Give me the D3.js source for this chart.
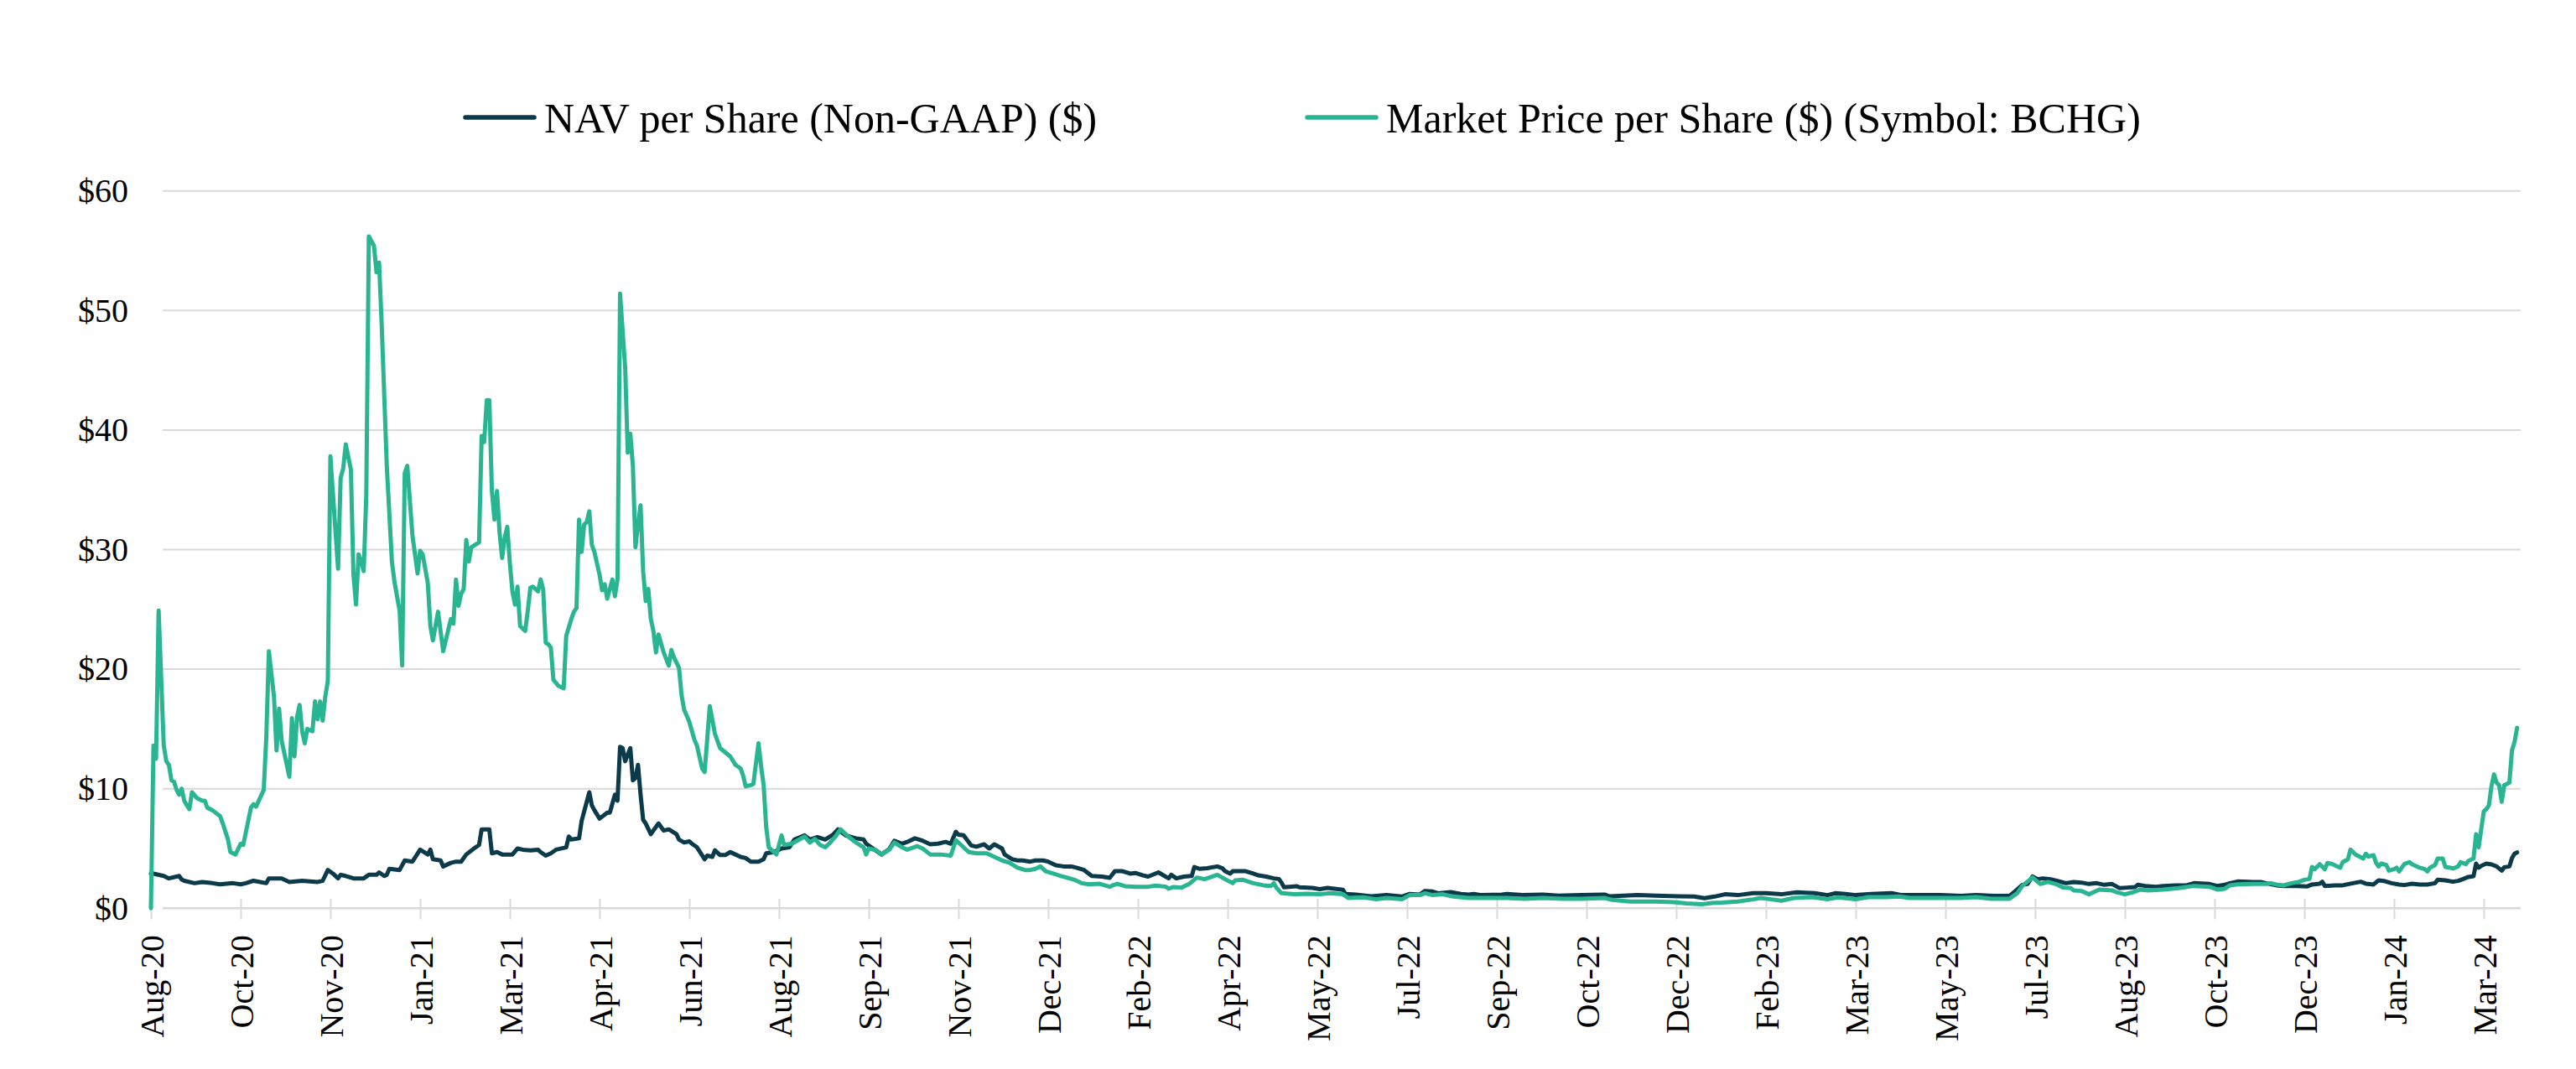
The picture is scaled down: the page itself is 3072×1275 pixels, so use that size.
<!DOCTYPE html>
<html>
<head>
<meta charset="utf-8">
<script src="https://cdn.jsdelivr.net/npm/d3@7"></script>
<style>
  html, body { margin: 0; padding: 0; background: #ffffff; }
  svg { display: block; }
  text { font-family: "Liberation Serif", "Times New Roman", Times, serif; fill: #000; }
</style>
</head>
<body>
<svg id="chart" width="3072" height="1275"></svg>
<script>
// ---------------- DATA ----------------
const seriesNames = ["NAV per Share (Non-GAAP) ($)", "Market Price per Share ($) (Symbol: BCHG)"];
const tickLabels = ["Aug-20","Oct-20","Nov-20","Jan-21","Mar-21","Apr-21","Jun-21","Aug-21","Sep-21","Nov-21","Dec-21","Feb-22","Apr-22","May-22","Jul-22","Sep-22","Oct-22","Dec-22","Feb-23","Mar-23","May-23","Jul-23","Aug-23","Oct-23","Dec-23","Jan-24","Mar-24"];
const daysPerLabel = 35; // trading days between category labels
const yTickValues = [0, 10, 20, 30, 40, 50, 60];

// [trading-day index, NAV per share $]
const navData = [
[0,2.9],[1,2.9],[5,2.7],[7,2.5],[11,2.7],[12,2.4],[13,2.3],[17,2.1],[20,2.2],[24,2.1],[27,2.0],[32,2.1],[35,2.0],[37,2.1],[40,2.3],[45,2.1],[46,2.5],[51,2.5],[54,2.2],[59,2.3],[65,2.2],[67,2.3],[69,3.2],[71,2.9],[73,2.5],[74,2.8],[76,2.7],[79,2.5],[83,2.5],[85,2.8],[88,2.8],[89,3.0],[91,2.7],[92,2.8],[93,3.3],[97,3.2],[99,4.0],[102,3.9],[105,4.9],[108,4.5],[109,4.9],[110,4.1],[113,4.0],[114,3.5],[117,3.8],[119,3.9],[121,3.9],[123,4.5],[126,5.0],[128,5.3],[129,6.6],[132,6.6],[133,4.6],[135,4.7],[137,4.5],[141,4.5],[143,5.0],[145,4.9],[148,4.85],[151,4.9],[152,4.7],[154,4.4],[156,4.6],[158,4.9],[162,5.1],[163,6.0],[164,5.75],[167,5.85],[168,7.3],[171,9.7],[172,8.6],[173,8.2],[175,7.5],[178,8.0],[179,8.0],[181,9.5],[182,9.0],[183,13.5],[184,13.4],[185,12.3],[187,13.4],[188,10.7],[189,10.9],[190,12.0],[191,9.5],[192,7.4],[193,7.1],[195,6.2],[198,7.1],[200,6.5],[202,6.6],[205,6.2],[206,5.75],[208,5.5],[210,5.6],[211,5.4],[213,5.1],[216,4.1],[217,4.4],
[219,4.3],[220,4.85],[222,4.45],[224,4.45],[226,4.7],[228,4.5],[230,4.3],[232,4.2],[234,3.9],[237,3.9],[239,4.1],[240,4.6],[243,4.7],[246,5.0],[249,5.1],[251,5.75],[255,6.1],[257,5.75],[260,5.95],[263,5.75],[266,6.15],[268,6.6],[271,6.1],[275,5.85],[278,5.75],[279,5.4],[282,4.95],[285,4.5],[288,4.95],[290,5.65],[293,5.4],[295,5.55],[298,5.85],[301,5.65],[304,5.35],[307,5.4],[310,5.55],[312,5.4],[314,6.4],[315,6.15],[317,6.1],[320,5.25],[322,5.15],[325,5.35],[327,5.0],[329,5.35],[332,5.0],[333,4.5],[336,4.1],[338,4.0],[340,4.0],[343,3.9],[345,4.0],[348,4.0],[350,3.9],[353,3.6],[356,3.5],[359,3.5],[361,3.4],[364,3.2],[367,2.7],[371,2.65],[374,2.55],[376,3.1],[379,3.1],[382,2.9],[384,2.95],[387,2.75],[389,2.65],[393,3.0],[397,2.5],[398,2.8],[400,2.5],[403,2.65],[406,2.7],[407,3.45],[409,3.3],[412,3.35],[416,3.5],[418,3.35],[419,3.1],[421,2.9],[422,3.1],[427,3.1],[430,2.9],[432,2.75],[435,2.65],[438,2.5],[440,2.45],[441,2.15],[442,1.75],[447,1.85],[448,1.75],[453,1.7],[456,1.6],[459,1.7],[465,1.55],[466,1.2],[470,1.15],[476,1.0],[482,1.1],[488,0.98],[491,1.2],[495,1.15],[497,1.45],[500,1.4],[502,1.25],[507,1.35],[511,1.2],[514,1.15],[516,1.2],[519,1.1],[527,1.15],[529,1.2],[535,1.1],[543,1.15],[549,1.05],[558,1.1],[567,1.15],[569,1.0],[580,1.1],[587,1.05],[596,1.0],[602,0.98],[606,0.84],[610,0.98],
[614,1.17],[619,1.1],[625,1.26],[630,1.26],[636,1.17],[642,1.33],[649,1.26],[654,1.1],[657,1.26],[661,1.2],[665,1.1],[671,1.2],[679,1.26],[683,1.1],[698,1.1],[706,1.03],[712,1.1],[719,1.03],[725,1.03],[728,1.57],[730,1.96],[732,2.03],[734,2.66],[736,2.43],[738,2.5],[741,2.43],[744,2.27],[747,2.1],[750,2.2],[753,2.15],[756,2.03],[759,2.1],[762,1.96],[765,2.03],[768,1.68],[771,1.73],[774,1.78],[775,1.96],[778,1.87],[782,1.8],[785,1.87],[790,1.92],[794,1.92],[797,2.1],[803,2.03],[806,1.87],[809,1.96],[811,2.1],[814,2.24],[820,2.2],[823,2.2],
[825,2.1],[829,1.92],[832,1.87],[837,1.87],[841,1.82],[843,1.99],[846,2.06],[847,2.22],[848,1.87],[852,1.92],[855,1.92],[859,2.1],[862,2.22],[864,2.06],[867,1.99],[869,2.34],[871,2.29],[874,2.1],[877,1.99],[879,1.94],[882,2.06],[885,1.99],[888,1.99],[891,2.1],[892,2.38],[895,2.34],[898,2.22],[900,2.29],[902,2.45],[904,2.62],[906,2.69],[907,3.74],[908,3.39],[909,3.55],[911,3.74],[913,3.67],[915,3.5],[917,3.15],[918,3.43],[920,3.5],[921,4.2],[922,4.56],[923,4.67]
];

// [trading-day index, market price per share $]
const marketData = [
[0,0],[1,13.6],[2,12.5],[3,24.9],[5,13.6],[6,12.3],[7,12.0],[8,10.7],[9,10.6],[10,9.9],[11,9.5],[12,10.0],[13,9.0],[14,8.6],[15,8.3],[16,9.7],[18,9.2],[20,9.0],[21,9.0],[22,8.4],[24,8.2],[27,7.7],[28,7.1],[30,5.8],[31,4.7],[33,4.5],[35,5.4],[36,5.3],[39,8.4],[40,8.7],[41,8.5],[44,9.9],[45,14.3],[46,21.5],[48,17.7],[49,13.2],[50,16.7],[51,14.0],[53,12.0],[54,11.0],[55,15.9],[56,12.7],[57,16.0],[58,17.0],[59,14.8],[60,13.8],[61,15.0],[63,14.8],[64,17.3],[65,15.8],[66,17.3],[67,15.7],[68,17.7],[69,19.0],[70,37.8],[73,28.4],[74,36.0],[75,36.8],[76,38.8],[78,36.7],[79,27.9],[80,25.4],[81,29.6],[82,29.0],[83,28.2],[84,34.5],[85,56.2],[87,55.4],[88,53.2],[89,54.0],[90,48.9],[92,37.0],[94,29.0],[95,27.3],[97,24.9],[98,20.3],[99,36.4],[100,37.0],[102,31.2],[104,28.0],[105,29.9],[106,29.6],[108,27.2],[109,23.6],[110,22.4],[112,24.8],[114,21.5],[117,24.2],[118,23.8],[119,27.5],[120,25.3],[121,26.3],[122,26.7],[123,30.8],[124,29.0],[125,30.2],[128,30.6],[129,39.5],[130,39.0],[131,42.5],[132,42.5],[133,34.9],[134,32.5],[135,34.9],[136,31.4],[137,29.3],[138,31.0],[139,31.9],[140,28.9],[141,26.5],[142,25.4],[143,26.9],[144,23.6],[145,23.4],[146,23.2],[147,24.9],[148,26.8],[149,26.9],[151,26.5],[152,27.5],[153,26.7],[154,22.2],[155,22.1],[156,21.8],[157,19.1],[159,18.6],[161,18.4],[162,22.8],[164,24.2],[165,24.8],[166,25.1],[167,32.5],[168,29.8],[169,32.1],[170,32.3],[171,33.2],[172,30.4],[173,29.8],[175,27.9],[176,26.6],[177,27.1],[178,25.9],[180,27.5],[181,26.1],[182,27.5],[183,51.4],[185,45.2],[186,38.1],[187,39.7],[188,37.0],[189,30.2],[190,32.1],[191,33.7],[192,28.2],[193,25.7],[194,26.7],[195,24.2],[196,23.2],[197,21.4],[198,22.9],[200,21.4],[202,20.3],[203,21.6],[204,21.0],[206,20.1],[207,17.8],[208,16.6],[210,15.6],[212,14.1],[213,13.6],[215,11.7],[216,11.4],[218,16.9],
[220,14.6],[222,13.4],[226,12.7],[228,12.0],[230,11.7],[231,11.1],[232,10.2],[234,10.3],[235,10.4],[236,12.1],[237,13.8],[238,11.9],[239,10.3],[240,6.8],[241,5.1],[243,4.7],[244,4.5],[246,6.1],[247,5.3],[250,5.4],[255,6.0],[257,5.5],[259,5.8],[261,5.3],[263,5.1],[265,5.5],[267,6.0],[269,6.6],[272,6.0],[275,5.5],[278,5.1],[279,4.5],[280,5.0],[283,4.85],[285,4.5],[288,4.9],[290,5.5],[293,5.1],[295,4.9],[299,5.2],[301,5.0],[304,4.5],[308,4.5],[312,4.4],[314,5.7],[316,5.3],[319,4.7],[322,4.6],[326,4.6],[329,4.3],[332,4.0],[335,3.8],[338,3.4],[341,3.2],[343,3.2],[345,3.3],[347,3.5],[349,3.1],[352,2.9],[355,2.7],[360,2.4],[363,2.1],[366,2.0],[370,2.05],[374,1.8],[375,1.9],[377,2.05],[380,1.85],[384,1.8],[389,1.8],[392,1.9],[396,1.8],
[397,1.64],[399,1.78],[402,1.73],[405,2.03],[408,2.57],[411,2.43],[416,2.8],[419,2.43],[422,2.1],[423,2.34],[426,2.38],[430,2.1],[434,1.92],[437,1.87],[438,2.1],[439,1.73],[441,1.26],[446,1.17],[451,1.21],[456,1.17],[460,1.26],[465,1.17],[467,0.86],[473,0.91],[478,0.75],[482,0.86],[488,0.75],[491,1.1],[495,1.1],[497,1.26],[500,1.1],[504,1.17],[508,0.98],[514,0.86],[521,0.86],[529,0.86],[536,0.79],[543,0.86],[551,0.79],[558,0.79],[567,0.86],[570,0.7],[577,0.56],[587,0.56],[594,0.51],[599,0.4],[605,0.33],[609,0.44],
[613,0.47],[619,0.56],[625,0.75],[628,0.86],[632,0.75],[636,0.63],[641,0.86],[648,0.93],[654,0.75],[658,0.91],[665,0.75],[670,0.93],[677,0.93],[682,0.98],[686,0.86],[698,0.86],[706,0.86],[712,0.93],[718,0.79],[725,0.79],[728,1.26],[730,1.87],[734,2.57],[737,2.03],[740,2.2],[743,2.03],[746,1.73],[749,1.68],[750,1.5],[753,1.45],[756,1.17],[760,1.57],[765,1.5],[767,1.33],[770,1.17],[773,1.33],[776,1.57],[779,1.5],[785,1.57],[791,1.68],[797,1.87],[803,1.8],[806,1.57],[809,1.64],[811,1.92],[814,2.0],[820,2.03],[823,2.03],
[825,2.03],[827,2.1],[829,1.99],[832,1.92],[835,2.1],[838,2.22],[840,2.38],[842,2.45],[843,3.46],[844,3.27],[846,3.69],[848,3.27],[849,3.79],[851,3.69],[854,3.39],[855,3.86],[857,4.09],[858,4.91],[860,4.49],[863,4.16],[864,4.56],[865,4.32],[867,4.44],[868,3.79],[869,3.5],[870,3.74],[872,3.62],[873,3.15],[875,3.27],[876,3.39],[877,3.08],[879,3.69],[881,3.86],[882,3.69],[885,3.39],[887,3.27],[888,3.08],[889,3.39],[891,3.62],[892,4.16],[894,4.16],[895,3.46],[897,3.39],[898,3.32],[900,3.5],[901,3.86],[903,3.69],[904,3.97],[906,4.16],[907,6.2],[908,5.1],[909,6.6],[910,8.1],[911,8.3],[912,8.6],[913,10.2],[914,11.2],[915,10.5],[916,10.3],[917,8.9],[918,10.3],[920,10.5],[921,13.2],[922,13.9],[923,15.1]
];

const colors = { nav: "#0B3A4B", market: "#2AB592", grid: "#D9D9D9" };

// ---------------- LAYOUT ----------------
const svg = d3.select("#chart");
const firstTickX = 180, lastTickX = 2962;
const gridLeft = 194, gridRight = 3006;
const yBottom = 1083.3, yTop = 227.7;

const x = d3.scaleLinear()
  .domain([0, daysPerLabel * (tickLabels.length - 1)])
  .range([firstTickX, lastTickX]);
const y = d3.scaleLinear().domain([0, 60]).range([yBottom, yTop]);

// gridlines
svg.append("g").selectAll("line")
  .data(yTickValues.filter(v => v > 0))
  .join("line")
  .attr("x1", gridLeft).attr("x2", gridRight)
  .attr("y1", d => y(d)).attr("y2", d => y(d))
  .attr("stroke", colors.grid).attr("stroke-width", 2);

// y-axis labels
const yAxis = d3.axisLeft(y).tickValues(yTickValues).tickSize(0).tickPadding(0)
  .tickFormat(d => "$" + d);
const yg = svg.append("g").attr("transform", "translate(153,0)").call(yAxis);
yg.select(".domain").remove();
yg.selectAll("text")
  .attr("x", 0)
  .style("font-family", '"Liberation Serif", "Times New Roman", serif')
  .style("font-size", "40px").attr("fill", "#000");

// x axis baseline
svg.append("line")
  .attr("x1", gridLeft).attr("x2", gridRight)
  .attr("y1", y(0)).attr("y2", y(0))
  .attr("stroke", colors.grid).attr("stroke-width", 2.6);

// x ticks and labels
const tickDays = tickLabels.map((_, i) => i * daysPerLabel);
const xAxis = d3.axisBottom(x).tickValues(tickDays).tickSize(0)
  .tickFormat((d, i) => tickLabels[i]);
const xg = svg.append("g").attr("transform", `translate(0,${y(0)})`).call(xAxis);
xg.select(".domain").remove();
xg.selectAll(".tick line").remove();
xg.selectAll(".tick").append("line")
  .attr("y1", -11.5).attr("y2", 13)
  .attr("stroke", colors.grid).attr("stroke-width", 2);
xg.selectAll(".tick text")
  .attr("transform", "translate(0,32) rotate(-90)")
  .attr("x", 0).attr("y", 0).attr("dy", "0.35em")
  .attr("text-anchor", "end")
  .style("font-family", '"Liberation Serif", "Times New Roman", serif')
  .style("font-size", "40px").attr("fill", "#000");

// lines
const line = d3.line().x(d => x(d[0])).y(d => y(d[1]));
svg.append("path").datum(navData)
  .attr("d", line).attr("fill", "none")
  .attr("stroke", colors.nav).attr("stroke-width", 5)
  .attr("stroke-linejoin", "round").attr("stroke-linecap", "round");
svg.append("path").datum(marketData)
  .attr("d", line).attr("fill", "none")
  .attr("stroke", colors.market).attr("stroke-width", 5)
  .attr("stroke-linejoin", "round").attr("stroke-linecap", "round");

// legend
const legendItems = [
  { name: seriesNames[0], color: colors.nav, x: 553 },
  { name: seriesNames[1], color: colors.market, x: 1557 }
];
const lg = svg.append("g").selectAll("g").data(legendItems).join("g")
  .attr("transform", d => `translate(${d.x},140)`);
lg.append("line").attr("x1", 2).attr("x2", 84).attr("y1", 0).attr("y2", 0)
  .attr("stroke", d => d.color).attr("stroke-width", 5.5).attr("stroke-linecap", "round");
lg.append("text").attr("x", 96).attr("y", 18)
  .style("font-size", "50px").text(d => d.name);
</script>
</body>
</html>
